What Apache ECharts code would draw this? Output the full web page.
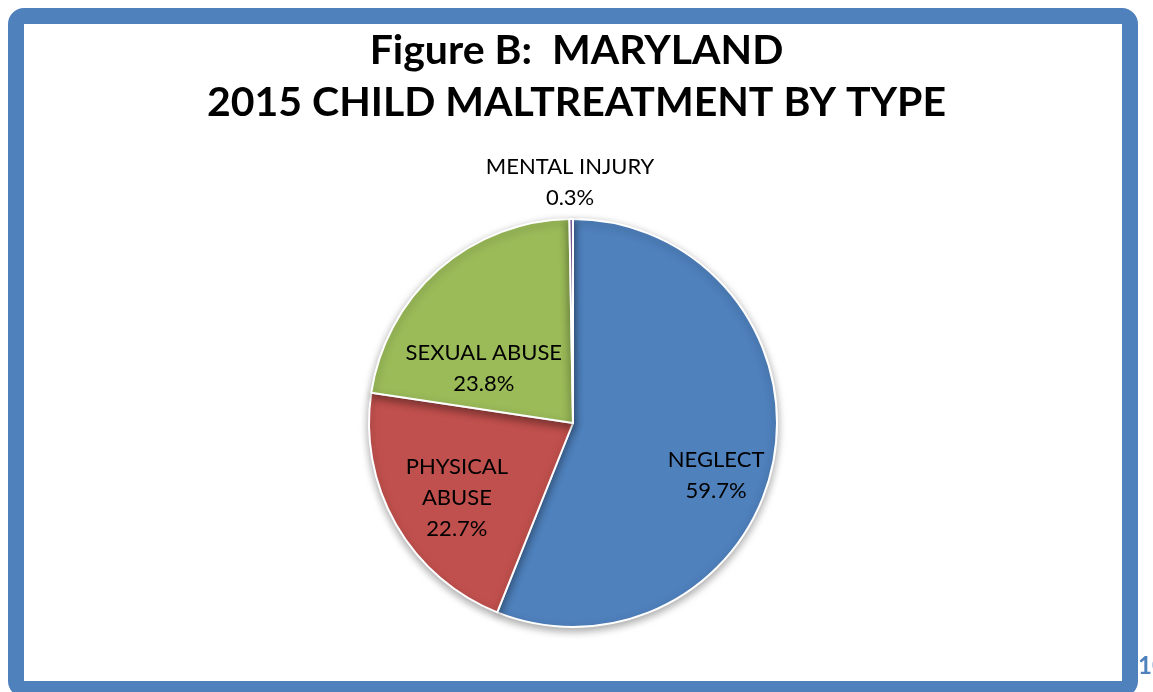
<!DOCTYPE html>
<html>
<head>
<meta charset="utf-8">
<script src="https://cdn.jsdelivr.net/npm/echarts@6/dist/echarts.min.js"></script>
<style>
  html, body { margin: 0; padding: 0; background: #fff; }
  #chart { width: 1153px; height: 692px; }
</style>
</head>
<body>
<div id="chart"></div>
<script>
const types = ['NEGLECT', 'PHYSICAL\nABUSE', 'SEXUAL ABUSE', 'MENTAL INJURY']
const percents = [59.7, 22.7, 23.8, 0.3]
const colors = ['#4f81bd', '#c0504d', '#9bbb59', '#8064a2']

// label nudges from the default inside spot, like excel's best fit
const nudges = [[40, 33], [-25, 23], [-20, 24], [-2, -136]]

const chart = echarts.init(document.getElementById('chart'))
chart.setOption({
  animation: false,
  title: {
    text: 'Figure B:  MARYLAND\n2015 CHILD MALTREATMENT BY TYPE',
    left: 'center',
    top: 20,
    textStyle: {
      fontFamily: 'Lato',
      fontWeight: 'bold',
      fontSize: 41,
      lineHeight: 52,
      color: '#000'
    }
  },
  graphic: [
    {
      type: 'rect',
      shape: { x: 16, y: 16, width: 1114, height: 673, r: 8 },
      style: { fill: 'none', stroke: '#4f81bd', lineWidth: 16 }
    },
    {
      type: 'text',
      left: 1138,
      top: 654,
      style: { text: '10', fill: '#4f81bd', font: 'bold 24px Lato' }
    }
  ],
  series: [{
    type: 'pie',
    center: [573, 423],
    radius: [0, 204],
    startAngle: 90,
    clockwise: true,
    data: types.map((t, i) => ({
      name: t,
      value: percents[i],
      itemStyle: { color: colors[i] }
    })),
    itemStyle: {
      borderColor: '#fff',
      borderWidth: 2,
      shadowBlur: 8,
      shadowColor: 'rgba(0,0,0,0.35)',
      shadowOffsetY: 3
    },
    label: {
      position: 'inside',
      formatter: p => p.name + '\n' + p.value + '%',
      fontFamily: 'Lato',
      fontSize: 22,
      lineHeight: 31,
      color: '#000',
      align: 'center'
    },
    labelLine: { show: false },
    labelLayout: p => ({ dx: nudges[p.dataIndex][0], dy: nudges[p.dataIndex][1] })
  }]
})
</script>
</body>
</html>
